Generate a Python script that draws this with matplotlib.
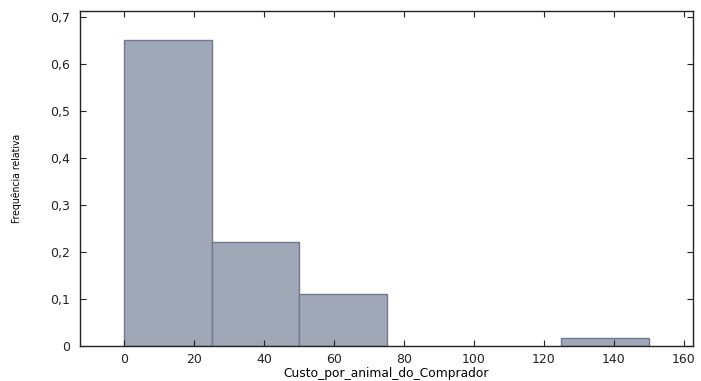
import matplotlib
matplotlib.use("Agg")
import matplotlib.pyplot as plt
from matplotlib.ticker import FuncFormatter

# histogram bins (left edges) and relative frequencies
bin_edges = [0, 25, 50, 75, 100, 125, 150]
rel_freq = [0.651, 0.222, 0.111, 0.0, 0.0, 0.016]

x_ticks = [0, 20, 40, 60, 80, 100, 120, 140, 160]
y_ticks = [0, 0.1, 0.2, 0.3, 0.4, 0.5, 0.6, 0.7]

fig = plt.figure(figsize=(7.01, 3.81), dpi=100)
ax = fig.add_axes([80 / 701, 35 / 381, 613 / 701, 335.5 / 381])

lefts = bin_edges[:-1]
widths = [b - a for a, b in zip(bin_edges[:-1], bin_edges[1:])]
for l, w, h in zip(lefts, widths, rel_freq):
    if h > 0:
        ax.bar(l, h, width=w, align="edge", color="#a0a7b6",
               edgecolor="#6f7890", linewidth=1.0)

ax.set_xlim(-12.6, 162.6)
ax.set_ylim(0, 0.714)
ax.set_xticks(x_ticks)
ax.set_yticks(y_ticks)

def fmt(v, pos):
    if v == 0:
        return "0"
    return ("%g" % round(v, 2)).replace(".", ",")

ax.yaxis.set_major_formatter(FuncFormatter(fmt))
ax.tick_params(direction="in", length=4, width=0.8, top=True, right=True,
               labelsize=9, colors="#222222")
ax.tick_params(axis="x", pad=5)
ax.tick_params(axis="y", pad=7)
for s in ax.spines.values():
    s.set_linewidth(1.0)
    s.set_color("#222222")

ax.set_xlabel("Custo_por_animal_do_Comprador", fontsize=8.8, va="baseline")
ax.xaxis.set_label_coords(0.5, -(377 - 346) / 335.5)
ax.set_ylabel("Frequência relativa", fontsize=7.5, fontstretch="condensed",
              labelpad=20)

fig.savefig("out.png", dpi=100)
